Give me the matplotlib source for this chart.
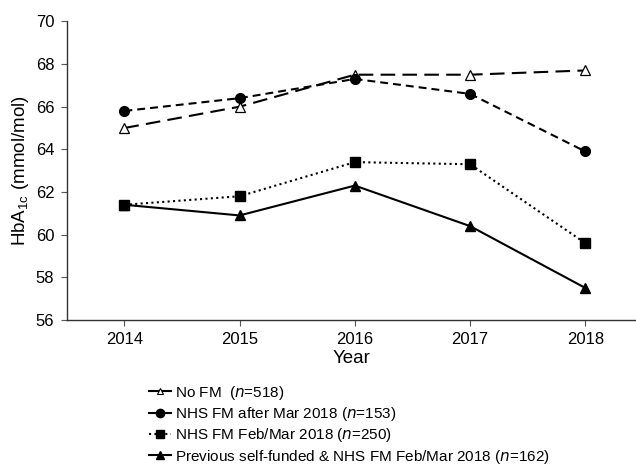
import numpy as np
import matplotlib
matplotlib.use('Agg')
import matplotlib.pyplot as plt
from matplotlib.lines import Line2D

plt.rcParams['font.family'] = ['Liberation Sans', 'DejaVu Sans']

years = [2014, 2015, 2016, 2017, 2018]

no_fm = [65.0, 66.0, 67.5, 67.5, 67.7]
nhs_after = [65.8, 66.4, 67.3, 66.6, 63.9]
nhs_febmar = [61.4, 61.8, 63.4, 63.3, 59.6]
prev_self = [61.4, 60.9, 62.3, 60.4, 57.5]

labels = ['No FM  ($\\it{n}$=518)',
          'NHS FM after Mar 2018 ($\\it{n}$=153)',
          'NHS FM Feb/Mar 2018 ($\\it{n}$=250)',
          'Previous self-funded & NHS FM Feb/Mar 2018 ($\\it{n}$=162)']

fig = plt.figure(figsize=(6.36, 4.65), dpi=100)
ax = fig.add_axes([0.105, 0.312, 0.895, 0.642])

lw = 1.5
ax.plot(years, no_fm, color='black', lw=lw, dashes=(7, 3.5),
        marker='^', ms=6.5, mfc='white', mec='black', mew=0.9)
ax.plot(years, nhs_after, color='black', lw=lw, dashes=(3.8, 2.4),
        marker='o', ms=7)
ax.plot(years, nhs_febmar, color='black', lw=lw, dashes=(1, 1.6),
        marker='s', ms=6.5)
ax.plot(years, prev_self, color='black', lw=lw, ls='-',
        marker='^', ms=7)

ax.set_xlim(2013.5, 2018.44)
ax.set_ylim(56, 70)
ax.set_yticks(np.arange(56, 71, 2))
ax.set_xticks(years)
ax.spines['top'].set_visible(False)
ax.spines['right'].set_visible(False)
for s in ['left', 'bottom']:
    ax.spines[s].set_linewidth(1.0)
    ax.spines[s].set_color('#333333')
ax.tick_params(labelsize=12, length=4, width=0.8, color='#555555', pad=5)
ax.set_xlabel('Year', fontsize=13.5, labelpad=2)
ax.set_ylabel('HbA$_{\\mathregular{1c}}$ (mmol/mol)', fontsize=13.5, labelpad=3)

handles = [
    Line2D([], [], color='black', lw=lw, marker='^', ms=5, mfc='white', mec='black', mew=0.8),
    Line2D([], [], color='black', lw=lw, marker='o', ms=6),
    Line2D([], [], color='black', lw=lw, dashes=(1, 1.6), marker='s', ms=5.5),
    Line2D([], [], color='black', lw=lw, marker='^', ms=6),
]
fig.legend(handles, labels, loc='upper left', bbox_to_anchor=(0.234, 0.175),
           frameon=False, fontsize=11, handlelength=1.45, handletextpad=0.25,
           labelspacing=0.22, borderpad=0, borderaxespad=0)

fig.savefig('out.png', dpi=100)
